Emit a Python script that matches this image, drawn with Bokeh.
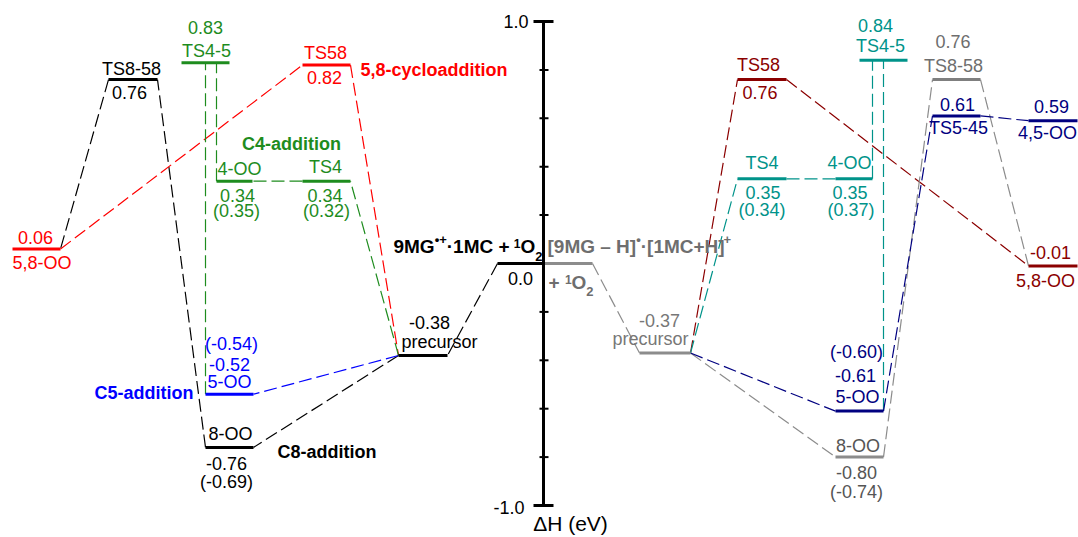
import numpy as np
from bokeh.plotting import figure
from bokeh.models import Range1d, ColumnDataSource
from bokeh.core.properties import value
from bokeh.embed import file_html
from bokeh.resources import INLINE

FONT = "Liberation Sans"

# ------------------------------------------------------------------ data
# Left manifold: 9MG*+ . 1MC + 1O2
L_states = ["reactant", "precursor", "5-OO", "8-OO", "TS8-58", "5,8-OO", "TS58", "TS4", "4-OO", "TS4-5"]
L_energy = [0.00, -0.38, -0.54, -0.76, 0.76, 0.06, 0.82, 0.34, 0.34, 0.83]
L_name_text = ["", "precursor", "5-OO", "8-OO", "TS8-58", "5,8-OO", "TS58", "TS4", "4-OO", "TS4-5"]
L_value_text = ["0.0", "-0.38", "-0.52", "-0.76", "0.76", "0.06", "0.82", "0.34", "0.34", "0.83"]
L_paren_text = ["", "", "(-0.54)", "(-0.69)", "", "", "", "(0.32)", "(0.35)", ""]

# Right manifold: [9MG - H]* . [1MC+H]+ + 1O2
R_states = ["reactant", "precursor", "TS4", "4-OO", "TS4-5", "TS58", "5,8-OO", "5-OO", "8-OO", "TS8-58", "TS5-45", "4,5-OO"]
R_energy = [0.00, -0.37, 0.35, 0.35, 0.84, 0.76, -0.01, -0.61, -0.80, 0.76, 0.61, 0.59]
R_name_text = ["", "precursor", "TS4", "4-OO", "TS4-5", "TS58", "5,8-OO", "5-OO", "8-OO", "TS8-58", "TS5-45", "4,5-OO"]
R_value_text = ["", "-0.37", "0.35", "0.35", "0.84", "0.76", "-0.01", "-0.61", "-0.80", "0.76", "0.61", "0.59"]
R_paren_text = ["", "", "(0.34)", "(0.37)", "", "", "", "(-0.60)", "(-0.74)", "", "", ""]

# connections (from state, end, to state, end)  'V' = vertical at the first point's x
L_links = [("reactant", "L", "precursor", "R"), ("precursor", "L", "8-OO", "R"),
           ("8-OO", "L", "TS8-58", "R"), ("TS8-58", "L", "5,8-OO", "R"),
           ("5,8-OO", "R", "TS58", "L"), ("TS58", "R", "precursor", "L"),
           ("precursor", "L", "5-OO", "R"), ("precursor", "L", "TS4", "R"),
           ("TS4", "L", "4-OO", "R"), ("4-OO", "L", "TS4-5", "V"), ("5-OO", "L", "TS4-5", "V")]
R_links = [("reactant", "R", "precursor", "L"), ("precursor", "R", "8-OO", "L"),
           ("precursor", "R", "5-OO", "L"), ("precursor", "R", "TS58", "L"),
           ("precursor", "R", "TS4", "L"), ("TS4", "R", "4-OO", "L"),
           ("4-OO", "R", "TS4-5", "V"), ("5-OO", "R", "TS4-5", "V"),
           ("TS58", "R", "5,8-OO", "L"), ("8-OO", "R", "TS8-58", "L"),
           ("TS8-58", "R", "5,8-OO", "L"), ("5-OO", "R", "TS5-45", "L"),
           ("TS5-45", "R", "4,5-OO", "L")]

axis_ticks = [-1.0, -0.8, -0.6, -0.4, -0.2, 0.2, 0.4, 0.6, 0.8, 1.0]
axis_labels = {1.0: "1.0", -1.0: "-1.0"}

# ------------------------------------------------------------------ style / layout
BLACK, RED, GREEN, BLUE = "#000000", "#ff0000", "#1e8c1e", "#0000ff"
TEAL, DRED, NAVY, GRAY = "#00938a", "#8b0000", "#000080", "#8c8c8c"

L_color = {"reactant": BLACK, "precursor": BLACK, "5-OO": BLUE, "8-OO": BLACK, "TS8-58": BLACK,
           "5,8-OO": RED, "TS58": RED, "TS4": GREEN, "4-OO": GREEN, "TS4-5": GREEN}
R_color = {"reactant": GRAY, "precursor": GRAY, "TS4": TEAL, "4-OO": TEAL, "TS4-5": TEAL,
           "TS58": DRED, "5,8-OO": DRED, "5-OO": NAVY, "8-OO": GRAY, "TS8-58": "#7f7f7f",
           "TS5-45": NAVY, "4,5-OO": NAVY}
L_textcolor = dict(L_color)
R_textcolor = dict(R_color)
R_textcolor.update({"precursor": "#777777", "8-OO": "#555555", "TS8-58": "#6e6e6e"})

L_link_color = [BLACK, BLACK, BLACK, BLACK, RED, RED, BLUE, GREEN, GREEN, GREEN, GREEN]
R_link_color = [GRAY, GRAY, NAVY, DRED, TEAL, TEAL, TEAL, TEAL, DRED, GRAY, GRAY, NAVY, NAVY]

L_slot = {"reactant": (497, 543), "precursor": (398, 447), "5-OO": (205, 253), "8-OO": (205, 253),
          "TS8-58": (108, 157), "5,8-OO": (12, 60), "TS58": (302, 350), "TS4": (302, 350),
          "4-OO": (216, 252), "TS4-5": (181, 229)}
R_slot = {"reactant": (543, 592), "precursor": (639, 690), "TS4": (737, 786), "4-OO": (835, 872),
          "TS4-5": (859, 907), "TS58": (737, 786), "5,8-OO": (1028, 1077), "5-OO": (835, 883),
          "8-OO": (835, 883), "TS8-58": (932, 980), "TS5-45": (932, 980), "4,5-OO": (1028, 1077)}

# label placement (dx from level centre, dy = baseline offset from level; screen px, +dy = down)
L_lab = {"reactant": {"value": (0, 21)},
         "precursor": {"value": (6.5, -27), "name": (16.5, -8)},
         "5-OO": {"name": (0, -6), "value": (0, -24), "paren": (2, -44)},
         "8-OO": {"name": (1, -7), "value": (-3, 22), "paren": (-3, 41)},
         "TS8-58": {"name": (-1.5, -5), "value": (-3.5, 19)},
         "5,8-OO": {"value": (-1, -6), "name": (5.5, 20)},
         "TS58": {"name": (-1, -6), "value": (-2, 18)},
         "TS4": {"name": (-1, -8), "value": (-1.5, 20), "paren": (0, 36)},
         "4-OO": {"name": (5, -6), "value": (3, 20), "paren": (2, 36)},
         "TS4-5": {"name": (1, -6), "value": (0, -29)}}
R_lab = {"reactant": {},
         "precursor": {"value": (-5.5, -27), "name": (-14.5, -8)},
         "TS4": {"name": (0, -10), "value": (1, 20), "paren": (0, 37)},
         "4-OO": {"name": (-4.5, -10), "value": (-4, 20), "paren": (-3, 37)},
         "TS4-5": {"name": (-3, -8), "value": (-8, -29)},
         "TS58": {"name": (-3.5, -9), "value": (-2, 19)},
         "5,8-OO": {"value": (-2.5, -7), "name": (-7.5, 21)},
         "5-OO": {"name": (-2, -8), "value": (-4, -30), "paren": (-3, -53)},
         "8-OO": {"name": (-1.5, -5), "value": (-3, 21), "paren": (-3, 41)},
         "TS8-58": {"name": (-3, -8), "value": (-3.5, -32)},
         "TS5-45": {"value": (1, -5), "name": (2, 18)},
         "4,5-OO": {"value": (-1.5, -8), "name": (-5.5, 18)}}

W_PX, H_PX = 1078, 537
AXIS_X = 543
PX_PER_EV = 242.0
Y0_IMG = 263.0
E_top = Y0_IMG / PX_PER_EV
E_bot = (Y0_IMG - H_PX) / PX_PER_EV
BASELINE_FIX = 0.33   # rendered alphabetic baseline sits ~0.33em low

p = figure(width=W_PX, height=H_PX, x_range=Range1d(0, W_PX), y_range=Range1d(E_bot, E_top),
           output_backend="svg", toolbar_location=None, min_border=0,
           x_axis_type=None, y_axis_type=None)
p.grid.visible = False
p.outline_line_color = None
p.background_fill_color = "white"
p.border_fill_color = "white"

texts = {}


def add_text(x, y, s, color, dx, dy, size=18, style="normal", align="center", fix=True):
    key = (size, style, align)
    d = texts.setdefault(key, {"x": [], "y": [], "text": [], "color": [], "dx": [], "dy": []})
    d["x"].append(x); d["y"].append(y); d["text"].append(s)
    d["color"].append(color); d["dx"].append(dx)
    d["dy"].append(dy - (BASELINE_FIX * size if fix else 0))


def draw_side(states, energy, slots, colors, tcolors, names, vals, parens, lab, links, lcolors):
    E = dict(zip(states, energy))
    sx0, sy0, sx1, sy1 = [], [], [], []
    for (a, ea, b, eb) in links:
        xa = slots[a][0] if ea == "L" else slots[a][1]
        xb = xa if eb == "V" else (slots[b][0] if eb == "L" else slots[b][1])
        sx0.append(xa); sy0.append(E[a]); sx1.append(xb); sy1.append(E[b])
    src = ColumnDataSource(dict(x0=sx0, y0=sy0, x1=sx1, y1=sy1, c=lcolors))
    p.segment("x0", "y0", "x1", "y1", source=src, line_color="c", line_width=1.2,
              line_dash="13 5")
    src = ColumnDataSource(dict(x0=[slots[s][0] for s in states], x1=[slots[s][1] for s in states],
                                y=energy, c=[colors[s] for s in states]))
    p.segment("x0", "y", "x1", "y", source=src, line_color="c", line_width=3, line_cap="butt")
    for s, n, v, pa in zip(states, names, vals, parens):
        xc = 0.5 * (slots[s][0] + slots[s][1])
        for key, txt in (("name", n), ("value", v), ("paren", pa)):
            if txt and key in lab[s]:
                dx, dy = lab[s][key]
                add_text(xc, E[s], txt, tcolors[s], dx, dy)


draw_side(L_states, L_energy, L_slot, L_color, L_textcolor, L_name_text, L_value_text,
          L_paren_text, L_lab, L_links, L_link_color)
draw_side(R_states, R_energy, R_slot, R_color, R_textcolor, R_name_text, R_value_text,
          R_paren_text, R_lab, R_links, R_link_color)

# central energy axis
p.segment([AXIS_X], [-1.0], [AXIS_X], [1.0], line_color="black", line_width=3)
maj = [t for t in axis_ticks if abs(t) == 1.0]
mnr = [t for t in axis_ticks if abs(t) != 1.0]
p.segment([AXIS_X - 10] * len(maj), maj, [AXIS_X + 10] * len(maj), maj, line_color="black", line_width=3)
p.segment([AXIS_X - 4] * len(mnr), mnr, [AXIS_X + 5] * len(mnr), mnr, line_color="black", line_width=2)
add_text(AXIS_X, 1.0, axis_labels[1.0], BLACK, -15, 6, align="right")
add_text(AXIS_X, -1.0, axis_labels[-1.0], BLACK, -19, 8, align="right")
add_text(AXIS_X, -1.0, "\u0394H (eV)", BLACK, 27, 18, size=21, fix=False)

# pathway group labels
EL = dict(zip(L_states, L_energy))
add_text(L_slot["TS58"][1], EL["TS58"], "5,8-cycloaddition", RED, 10, 11, style="bold", align="left")
add_text(L_slot["TS4"][0], EL["TS4"], "C4-addition", GREEN, -11, -31, style="bold")
add_text(L_slot["5-OO"][0], EL["5-OO"], "C5-addition", BLUE, -12, 5, style="bold", align="right")
add_text(L_slot["8-OO"][1], EL["8-OO"], "C8-addition", BLACK, 24, 11, style="bold", align="left")

# reactant titles with super/subscripts
AB = {'9': 556, 'M': 833, 'G': 778, '\u2022': 350, '+': 584, '\u00b7': 278, '1': 556, 'C': 722,
      ' ': 278, 'O': 778, '2': 556, '[': 333, ']': 333, 'H': 722, '\u2013': 556}


def tw(s, size):
    return sum(AB.get(c, 556) for c in s) * size / 1000.0


def rich(x, y, pieces, color, dx0, dy0):
    off = dx0
    for txt, size, rise in pieces:
        add_text(x, y, txt, color, off, dy0 + rise, size=size, style="bold", align="left")
        off += tw(txt, size)


left_title = [("9MG", 19, 0), ("\u2022+", 13, -9), ("\u00b71MC + ", 19, 0), ("1", 12, -5),
              ("O", 19, 0), ("2", 13, 8)]
W = sum(tw(t, s) for t, s, _ in left_title)
rich(L_slot["reactant"][1], 0.0, left_title, BLACK, -W - 1, -11)
right_title = [("[9MG \u2013 H]", 19, 0), ("\u2022", 13, -9), ("\u00b7[1MC+H]", 19, 0), ("+", 13, -9)]
rich(R_slot["reactant"][0], 0.0, right_title, "#6e6e6e", 4, -11)
right_title2 = [("+ ", 19, 0), ("1", 12, -5), ("O", 19, 0), ("2", 13, 7)]
rich(R_slot["reactant"][0], 0.0, right_title2, "#6e6e6e", 5, 25)

for (size, style, align), d in texts.items():
    p.text(x="x", y="y", text="text", source=ColumnDataSource(d), text_color="color",
           x_offset="dx", y_offset="dy", text_font=value(FONT), text_font_size=f"{size}px",
           text_font_style=style, text_align=align, text_baseline="alphabetic")

open("out.html", "w").write(file_html(p, INLINE))
